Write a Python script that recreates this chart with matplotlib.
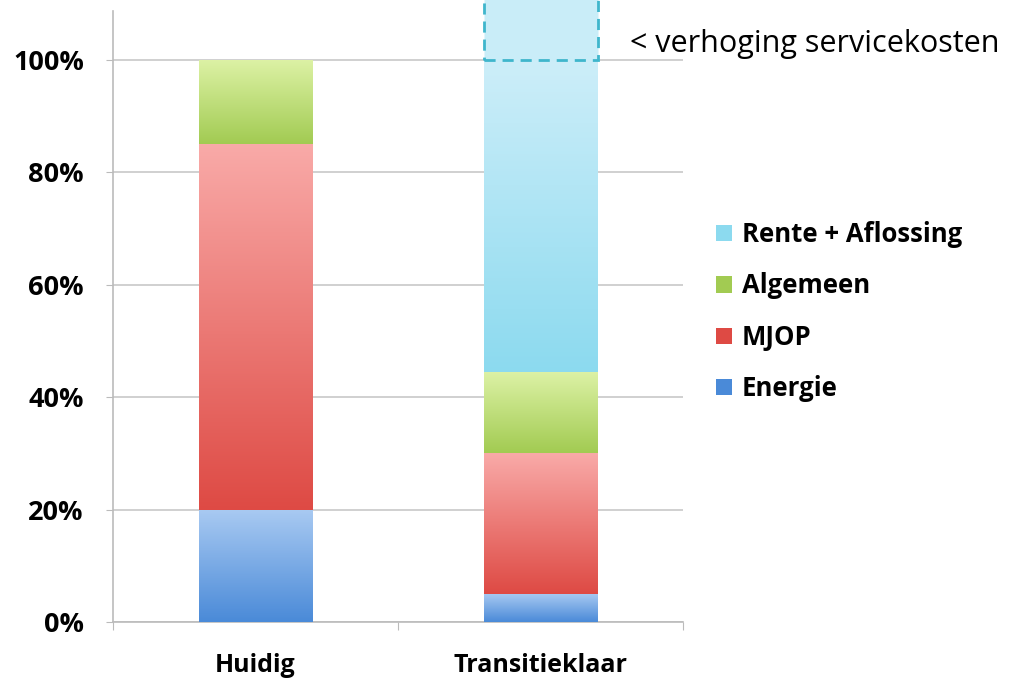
import numpy as np
import matplotlib.pyplot as plt
from matplotlib.colors import LinearSegmentedColormap
from matplotlib.patches import Patch

# ── Data ──────────────────────────────────────────────────────────────────────
categories = ["Huidig", "Transitieklaar"]
energie = [20, 5]
mjop = [65, 25]
algemeen = [15, 14.5]
rente = [0, 55.5]
verhoging = [0, 12]          # extra on top of 100% (cut off at the top)
y_ticks = [0, 20, 40, 60, 80, 100]

# ── Style ─────────────────────────────────────────────────────────────────────
plt.rcParams.update({
    "font.family": ["Open Sans", "DejaVu Sans"],
    "font.size": 15,
})

series = [
    ("Energie", energie, "#4a8ad8", "#a9caf2"),
    ("MJOP", mjop, "#de4a44", "#f9aaa8"),
    ("Algemeen", algemeen, "#a2cb52", "#ddf2a6"),
    ("Rente + Aflossing", rente, "#8cdaef", "#cdeef9"),
]

fig = plt.figure(figsize=(10.21, 6.79), dpi=100)
ax = fig.add_axes([113 / 1021, 57 / 679, 570 / 1021, 611 / 679])

x = np.arange(len(categories))
width = 0.4
bottom = np.zeros(len(categories))
grad = np.linspace(0, 1, 256).reshape(-1, 1)
handles = []

for name, vals, dark, light in series:
    bars = ax.bar(x, vals, width, bottom=bottom, color=light, linewidth=0, zorder=2)
    cmap = LinearSegmentedColormap.from_list(name, [dark, light])
    for b in bars:
        if b.get_height() <= 0:
            continue
        bx, by = b.get_x(), b.get_y()
        im = ax.imshow(grad, cmap=cmap, origin="lower", aspect="auto",
                       extent=[bx, bx + b.get_width(), by, by + b.get_height()],
                       zorder=3)
        im.set_clip_path(b)
    handles.append(Patch(facecolor=dark, label=name))
    bottom += np.array(vals)

# dashed "verhoging servicekosten" block above 100%
extra = ax.bar(x, verhoging, width, bottom=bottom, color="#c9edf8",
               edgecolor="#3fb6cc", linestyle=(0, (4, 2.5)), linewidth=2,
               zorder=4, clip_on=False)
for b in extra:
    if b.get_height() <= 0:
        b.set_visible(False)
ax.text(1.314, 102.8, "< verhoging servicekosten", fontsize=22,
        va="center", ha="left", clip_on=False)

ax.set_xlim(-0.5, 1.5)
ax.set_ylim(0, 108.7)
ax.set_yticks(y_ticks)
ax.set_yticklabels([f"{t}%" for t in y_ticks], fontweight="bold", fontsize=19.5)
ax.set_xticks([-0.5, 0.5, 1.5], minor=False)
ax.set_xticklabels([])
ax.set_xticks(x, minor=True)
ax.set_xticklabels(categories, minor=True, fontweight="bold", fontsize=18)
ax.tick_params(axis="x", which="minor", length=0, pad=22)
ax.tick_params(axis="x", which="major", length=6, color="#bbbbbb")
ax.tick_params(axis="y", length=5, color="#bbbbbb", pad=16)

ax.grid(axis="y", color="#c8c8c8", linewidth=1.2, zorder=0)
ax.set_axisbelow(True)
for s in ["top", "right"]:
    ax.spines[s].set_visible(False)
for s in ["left", "bottom"]:
    ax.spines[s].set_color("#bbbbbb")
    ax.spines[s].set_linewidth(1.2)

leg = fig.legend(handles=handles[::-1], loc="center left",
                 bbox_to_anchor=(0.679, 0.541), frameon=False,
                 prop={"weight": "bold", "size": 18.5}, handlelength=0.6,
                 handleheight=0.6, handletextpad=0.4, labelspacing=0.95)

fig.savefig("out.png", dpi=100)
